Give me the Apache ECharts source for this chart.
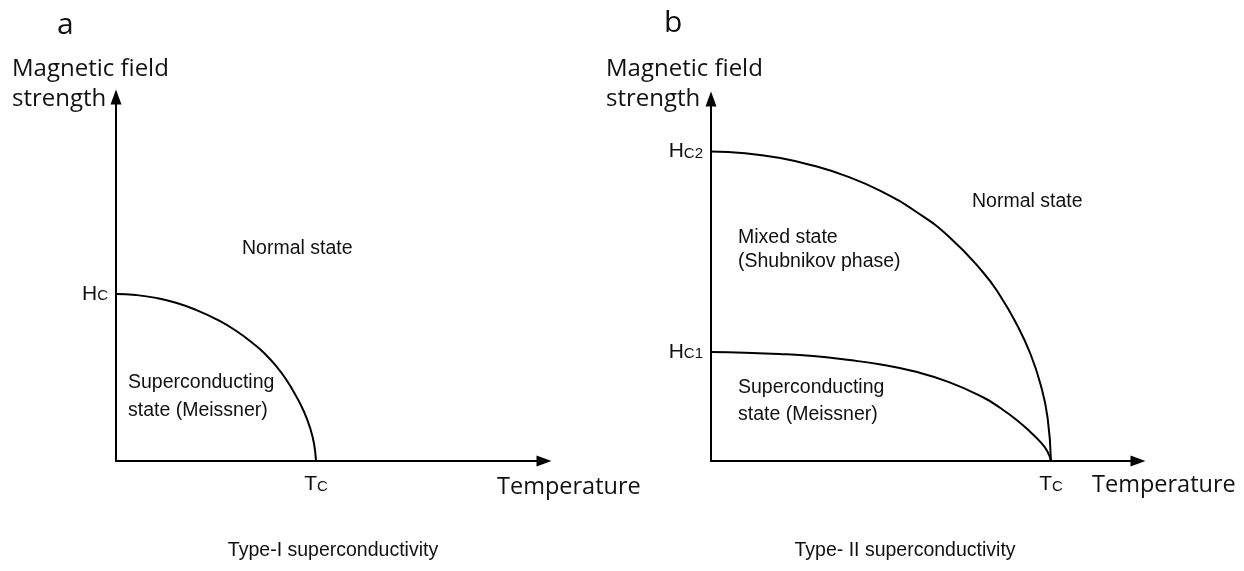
<!DOCTYPE html>
<html>
<head>
<meta charset="utf-8">
<script src="https://cdn.jsdelivr.net/npm/echarts@6/dist/echarts.min.js"></script>
<style>
  html, body { margin: 0; padding: 0; background: #fff; }
  #chart { width: 1244px; height: 571px; }
</style>
</head>
<body>
<div id="chart"></div>
<script>
// Type-I: critical field curve Hc(T), T in units of Tc, H in units of Hc
const tempA = [0, 0.1, 0.2, 0.3, 0.4, 0.5, 0.6, 0.7, 0.75, 0.8, 0.85, 0.9, 0.94, 0.97, 0.99, 1];
const fieldA = [1, 0.994, 0.977, 0.948, 0.905, 0.85, 0.78, 0.69, 0.635, 0.57, 0.49, 0.39, 0.295, 0.2, 0.105, 0];

// Type-II: upper critical field Hc2(T), H in units of Hc2
const tempB2 = [0, 0.1, 0.2, 0.3, 0.4, 0.5, 0.6, 0.7, 0.8, 0.85, 0.9, 0.94, 0.97, 0.99, 1];
const fieldB2 = [1, 0.995, 0.98, 0.955, 0.92, 0.872, 0.808, 0.725, 0.61, 0.535, 0.44, 0.345, 0.245, 0.14, 0];

// Type-II: lower critical field Hc1(T), same units
const tempB1 = [0, 0.1, 0.2, 0.3, 0.4, 0.5, 0.6, 0.7, 0.8, 0.85, 0.9, 0.94, 0.97, 0.99, 1];
const fieldB1 = [0.352, 0.35, 0.346, 0.339, 0.327, 0.312, 0.289, 0.255, 0.206, 0.172, 0.132, 0.093, 0.06, 0.03, 0];

// tick positions
const hcA = 1, tcA = 1;
const hc1B = 0.352, hc2B = 1, tcB = 1;

const pairs = (xs, ys) => xs.map((x, i) => [x, ys[i]]);

const black = '#000';
const textFont = '"Liberation Sans", Arial, sans-serif';
const bigFont = '"Open Sans", "Noto Sans", sans-serif';

const tickRich = {
  big: { fontSize: 21, fontFamily: textFont, color: '#111' },
  sub: { fontSize: 15, fontFamily: textFont, color: '#111', verticalAlign: 'bottom', padding: [0, 0, 1, 0] }
};

function axisLine() {
  return { show: true, symbol: ['none', 'triangle'], symbolSize: [11, 15], lineStyle: { color: black, width: 2 } };
}

function xAxisFor(grid, max, tc) {
  return {
    gridIndex: grid, type: 'value', min: 0, max: max,
    axisLine: axisLine(), axisTick: { show: false }, splitLine: { show: false },
    axisLabel: {
      customValues: [tc], margin: 13,
      formatter: () => '{big|T}{sub|C}', rich: tickRich
    }
  };
}

function yAxisFor(grid, max, ticks, names) {
  return {
    gridIndex: grid, type: 'value', min: 0, max: max,
    axisLine: axisLine(), axisTick: { show: false }, splitLine: { show: false },
    axisLabel: {
      customValues: ticks, margin: 8,
      formatter: (v) => names[ticks.indexOf(v)], rich: tickRich
    }
  };
}

function curve(x, y, data) {
  return {
    type: 'line', xAxisIndex: x, yAxisIndex: y, data: data,
    showSymbol: false, smooth: true, silent: true,
    lineStyle: { color: black, width: 2 }
  };
}

function txt(text, x, y, opts) {
  return {
    type: 'text', x: x, y: y, silent: true,
    style: Object.assign({
      text: text, fill: '#111', fontSize: 19.5, fontFamily: textFont,
      align: 'left', verticalAlign: 'middle'
    }, opts || {})
  };
}

const chart = echarts.init(document.getElementById('chart'));
chart.setOption({
  animation: false,
  backgroundColor: '#fff',
  grid: [
    { left: 116, top: 97, width: 428, height: 364 },
    { left: 711, top: 99, width: 427, height: 362 }
  ],
  xAxis: [xAxisFor(0, 2.14, tcA), xAxisFor(1, 1.256, tcB)],
  yAxis: [
    yAxisFor(0, 2.18, [hcA], ['{big|H}{sub|C}']),
    yAxisFor(1, 1.17, [hc1B, hc2B], ['{big|H}{sub|C1}', '{big|H}{sub|C2}'])
  ],
  series: [
    curve(0, 0, pairs(tempA, fieldA)),
    curve(1, 1, pairs(tempB2, fieldB2)),
    curve(1, 1, pairs(tempB1, fieldB1))
  ],
  graphic: [
    txt('a', 57, 25, { fontSize: 30, fontFamily: bigFont }),
    txt('b', 664, 23, { fontSize: 30, fontFamily: bigFont }),
    txt('Magnetic field\nstrength', 12, 84, { fontSize: 24, fontFamily: bigFont, lineHeight: 30 }),
    txt('Magnetic field\nstrength', 606, 84, { fontSize: 24, fontFamily: bigFont, lineHeight: 30 }),
    txt('Temperature', 497, 487, { fontSize: 23.5, fontFamily: bigFont }),
    txt('Temperature', 1092, 485, { fontSize: 23.5, fontFamily: bigFont }),
    txt('Normal state', 242, 249),
    txt('Superconducting\nstate (Meissner)', 128, 397, { lineHeight: 28 }),
    txt('Normal state', 972, 202),
    txt('Mixed state\n(Shubnikov phase)', 738, 250, { lineHeight: 24 }),
    txt('Superconducting\nstate (Meissner)', 738, 401, { lineHeight: 27 }),
    txt('Type-I superconductivity', 333, 551, { align: 'center' }),
    txt('Type- II superconductivity', 905, 551, { align: 'center' })
  ]
});
</script>
</body>
</html>
